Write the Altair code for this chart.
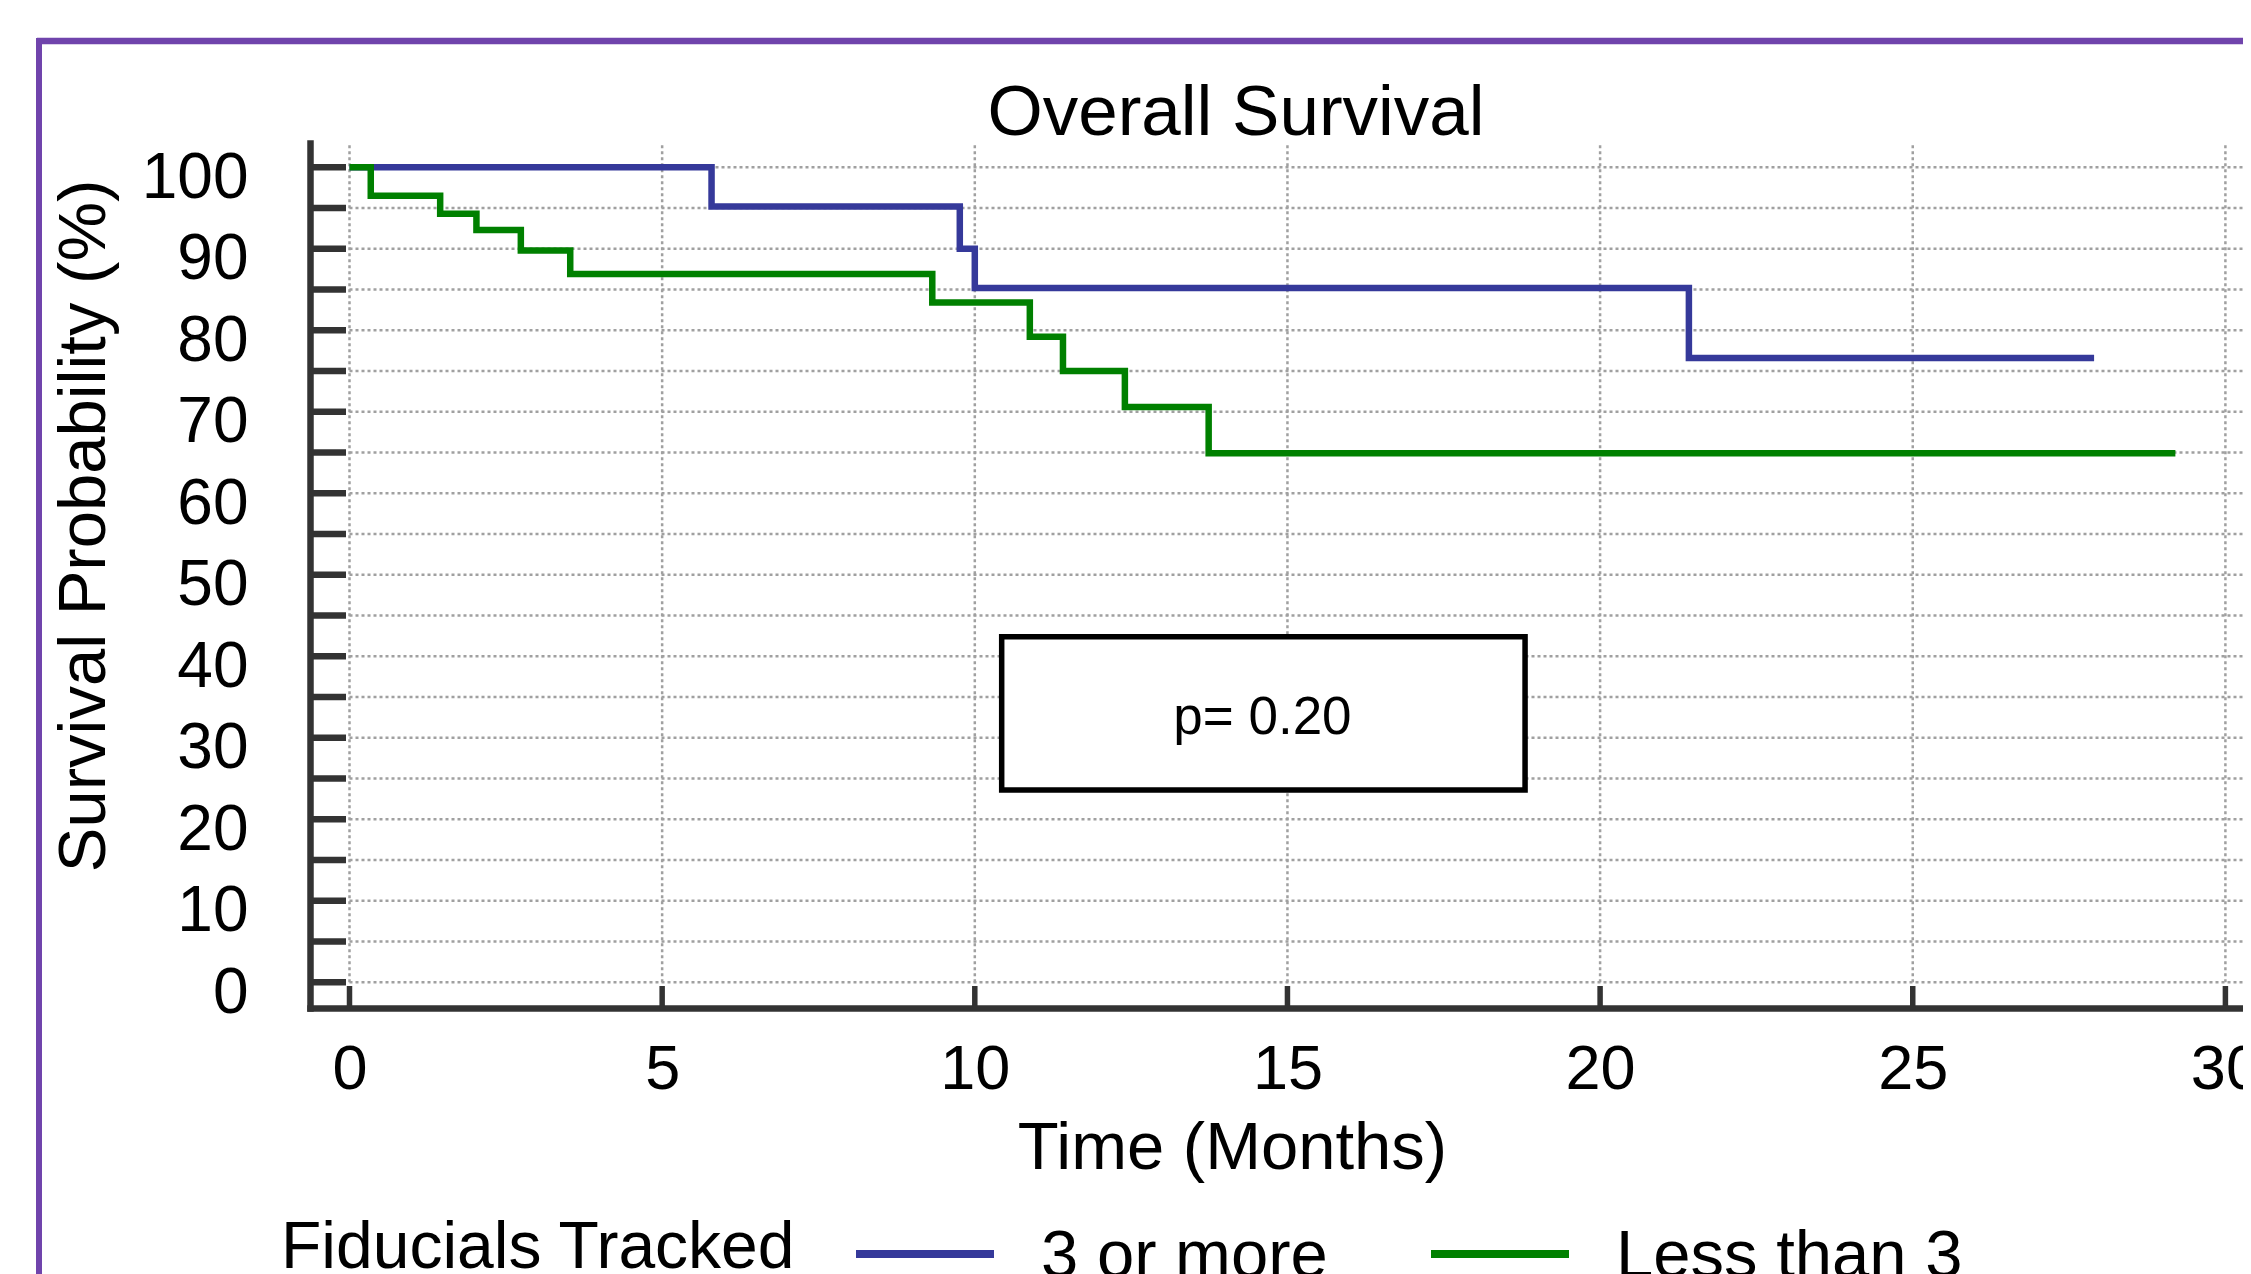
import altair as alt
import pandas as pd

# ---- data ----
groups = ["3 or more", "Less than 3"]
blue_time = [0, 5.79, 9.76, 10.0, 21.42, 27.9]
blue_surv = [100, 95.2, 90.0, 85.2, 76.6, 76.6]
green_time = [0, 0.34, 1.45, 2.03, 2.74, 3.53, 9.32, 10.88, 11.41, 12.40, 13.74, 29.2]
green_surv = [100, 96.5, 94.3, 92.3, 89.8, 86.9, 83.4, 79.2, 75.0, 70.6, 64.9, 64.9]
x_ticks = [0, 5, 10, 15, 20, 25, 30]
y_labels = [0, 10, 20, 30, 40, 50, 60, 70, 80, 90, 100]
y_ticks = [0, 5, 10, 15, 20, 25, 30, 35, 40, 45, 50, 55, 60, 65, 70, 75, 80, 85, 90, 95, 100]
p_label = ["p= 0.20"]
legend_title = ["Fiducials Tracked"]

# ---- annotation geometry (data units) ----
BOX = dict(x1=10.43, x2=18.80, y1=23.6, y2=42.4)
PTXT = dict(x=14.6, y=30.5)

# ---- styles ----
COLORS = ["#35399A", "#008000"]
FONT = "Liberation Sans"
GRID = "#a0a0a0"
AX = "#333333"
PURPLE = "#7044AC"
W, H = 1933, 865
PXU = 62.53          # pixels per month
X0 = 39.5            # pixel of month 0 from the y axis line

xscale = alt.Scale(domain=[-X0 / PXU, (W - X0) / PXU], nice=False, zero=False)
yscale = alt.Scale(domain=[-3.153, 102.98], nice=False, zero=False)

curves = pd.concat([
    pd.DataFrame({"time": blue_time, "surv": blue_surv, "group": groups[0]}),
    pd.DataFrame({"time": green_time, "surv": green_surv, "group": groups[1]}),
])

x_axis = alt.Axis(
    values=x_ticks, title="Time (Months)", domain=True, domainColor=AX,
    domainWidth=6.5, domainCap="square", ticks=False, tickSize=0, grid=False,
    labelFontSize=63, labelPadding=80, labelBaseline="alphabetic",
    labelFlush=False, labelOverlap=False, labelColor="black", labelFont=FONT,
    titleFontSize=67, titleFontWeight="normal", titleColor="black", titleFont=FONT,
    titleX=922, titleY=160, titleBaseline="alphabetic", titleAlign="center",
)
y_axis = alt.Axis(
    values=y_labels, title="Survival Probability (%)", domain=True, domainColor=AX,
    domainWidth=6.5, domainCap="square", ticks=False, tickSize=0, grid=False,
    labelFontSize=64, labelPadding=62, labelAlign="right", labelBaseline="alphabetic",
    labelOffset=30, labelFlush=False, labelOverlap=False, labelColor="black", labelFont=FONT,
    titleFontSize=67, titleFontWeight="normal", titleColor="black", titleFont=FONT,
    titleAngle=270, titleX=-206, titleY=382.5, titleBaseline="alphabetic", titleAlign="center",
)


def X(f):
    return alt.X(f, scale=xscale, axis=x_axis)


def Y(f):
    return alt.Y(f, scale=yscale, axis=y_axis)


xt = pd.DataFrame({"v": x_ticks})
yt = pd.DataFrame({"v": y_ticks})

vgrid = alt.Chart(xt).transform_calculate(zero="0").mark_rule(
    color=GRID, strokeWidth=2.5, strokeDash=[3, 3]
).encode(x=X("v:Q"), y=Y("zero:Q"), y2=alt.value(0))

hgrid = alt.Chart(yt).transform_calculate(zero="0").mark_rule(
    color=GRID, strokeWidth=2.5, strokeDash=[3, 3]
).encode(x=X("zero:Q"), x2=alt.value(W), y=Y("v:Q"))

yticks = alt.Chart(yt).mark_rule(color=AX, strokeWidth=6.5).encode(
    y=Y("v:Q"), x=alt.value(0), x2=alt.value(36)
)
xticks = alt.Chart(xt).mark_rule(color=AX, strokeWidth=5.5).encode(
    x=X("v:Q"), y=alt.value(H - 22), y2=alt.value(H)
)
box = alt.Chart(pd.DataFrame([BOX])).mark_rect(
    fill="white", stroke="black", strokeWidth=5.5
).encode(x=X("x1:Q"), x2="x2:Q", y=Y("y1:Q"), y2="y2:Q")

ptext = alt.Chart(pd.DataFrame({"t": p_label, "x": [PTXT["x"]], "y": [PTXT["y"]]})).mark_text(
    font=FONT, fontSize=53, color="black", align="center", baseline="alphabetic"
).encode(x=X("x:Q"), y=Y("y:Q"), text="t:N")

lines = alt.Chart(curves).mark_line(interpolate="step-after", strokeWidth=6.5).encode(
    x=X("time:Q"),
    y=Y("surv:Q"),
    color=alt.Color(
        "group:N",
        scale=alt.Scale(domain=groups, range=COLORS),
        legend=alt.Legend(
            title=None, orient="none", legendX=542, legendY=1041,
            direction="horizontal",
            labelFontSize=67, labelFont=FONT, labelColor="black", labelLimit=2000,
            labelOffset=43, symbolType="M-1,-0.043L1,-0.043", symbolSize=19044,
            symbolStrokeWidth=8, columnPadding=87, padding=0,
        ),
    ),
    detail="group:N",
)
title = alt.Chart(pd.DataFrame({"t": ["Overall Survival"]})).mark_text(
    font=FONT, fontSize=71, color="black", align="center", baseline="alphabetic"
).encode(x=alt.value(926), y=alt.value(-8), text="t:N")

leg_title = alt.Chart(pd.DataFrame({"t": legend_title})).mark_text(
    font=FONT, fontSize=66, color="black", align="left", baseline="alphabetic"
).encode(x=alt.value(-29), y=alt.value(1125), text="t:N")

frame_top = alt.Chart(pd.DataFrame({"a": [0]})).mark_rule(color=PURPLE, strokeWidth=6.5).encode(
    x=alt.value(-273), x2=alt.value(W + 50), y=alt.value(-102)
)
frame_left = alt.Chart(pd.DataFrame({"a": [0]})).mark_rule(color=PURPLE, strokeWidth=6).encode(
    x=alt.value(-271), y=alt.value(-105), y2=alt.value(H + 400)
)

chart = alt.layer(
    vgrid, hgrid, yticks, xticks, box, ptext, lines, title, leg_title, frame_top, frame_left
).properties(
    width=W, height=H,
    autosize=alt.AutoSizeParams(type="none"),
    padding={"left": 302, "top": 135, "right": 0, "bottom": 266},
    background="white",
).configure_view(strokeWidth=0)

chart.save("out.html", embed_options={"renderer": "svg", "actions": False})
